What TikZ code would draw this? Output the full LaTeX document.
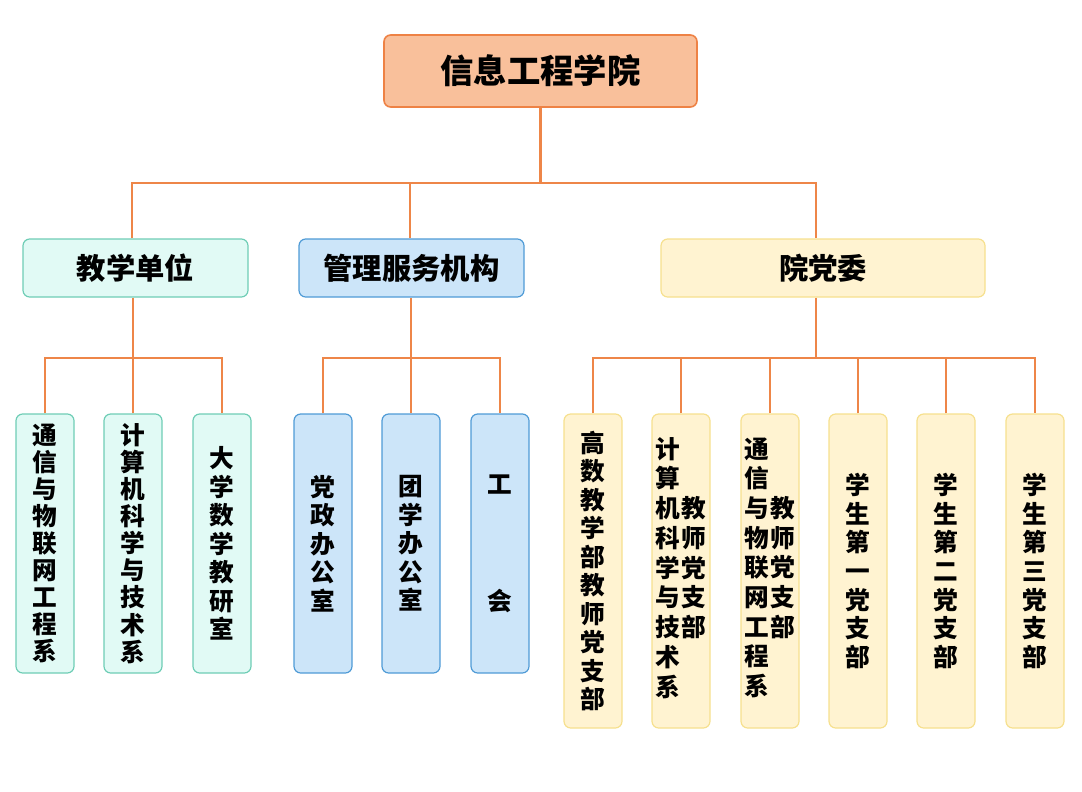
\documentclass[tikz,border=0pt]{standalone}
\usepackage{fontspec}
\newfontfamily\cjk{Noto Sans CJK SC}
\definecolor{lineor}{HTML}{EE8648}
\definecolor{topfill}{HTML}{F9C09B}
\definecolor{topdraw}{HTML}{EE8245}
\definecolor{mintfill}{HTML}{E1FAF5}
\definecolor{mintdraw}{HTML}{6ECDB5}
\definecolor{bluefill}{HTML}{CCE5F9}
\definecolor{bluedraw}{HTML}{4F9BD6}
\definecolor{yelfill}{HTML}{FFF3D1}
\definecolor{yeldraw}{HTML}{F6E08E}
\tikzset{
  box/.style={rectangle, rounded corners=5pt, line width=0.9pt, inner sep=0pt, align=center,
    font=\cjk\bfseries\fontsize{18.5}{21.4}\selectfont},
  tight/.style={font=\cjk\bfseries\fontsize{18.5}{20.3}\selectfont},
  topbox/.style={box, fill=topfill, draw=topdraw, line width=1.2pt, minimum width=234.75pt, minimum height=54pt,
    font=\cjk\bfseries\fontsize{25}{28}\selectfont},
  midbox/.style={box, minimum height=43.5pt, font=\cjk\bfseries\fontsize{22}{25}\selectfont},
  mint/.style={fill=mintfill, draw=mintdraw},
  blue/.style={fill=bluefill, draw=bluedraw},
  yel/.style={fill=yelfill, draw=yeldraw},
  leafA/.style={box, minimum width=43.5pt, minimum height=194.25pt},
  leafB/.style={box, minimum width=43.5pt, minimum height=235.5pt},
  conn/.style={draw=lineor, line width=1.9pt}
}
\begin{document}
\begin{tikzpicture}[x=0.75pt,y=-0.75pt]
\useasboundingbox (0,0) rectangle (1082,792);
% top
\node[topbox] (top) at (540.5,71) {信息工程学院};
% level 2
\node[midbox, mint, minimum width=168.75pt] (jx) at (135.5,268) {教学单位};
\node[midbox, blue, minimum width=168.75pt] (gl) at (411.5,268) {管理服务机构};
\node[midbox, yel, minimum width=243pt] (dw) at (823,268) {院党委};
% leaves group A
\node[leafA, mint, tight] (a1) at (45,543.5) {通\\信\\与\\物\\联\\网\\工\\程\\系};
\node[leafA, mint, tight] (a2) at (133,543.5) {计\\算\\机\\科\\学\\与\\技\\术\\系};
\node[leafA, mint] (a3) at (222,543.5) {大\\学\\数\\学\\教\\研\\室};
% leaves group B
\node[leafA, blue] (b1) at (323,543.5) {党\\政\\办\\公\\室};
\node[leafA, blue] (b2) at (411,543.5) {团\\学\\办\\公\\室};
\node[leafA, blue] (b3) at (500,543.5) {工\\\strut\\\strut\\\strut\\会};
% leaves group C
\node[leafB, yel] (c1) at (593,571) {高\\数\\教\\学\\部\\教\\师\\党\\支\\部};
\node[leafB, yel] (c2) at (681,571) {\begin{tabular}{@{}c@{\hspace{1pt}}c@{}}计&\\算&\\机&教\\科&师\\学&党\\与&支\\技&部\\术&\\系&\end{tabular}};
\node[leafB, yel] (c3) at (770,571) {\begin{tabular}{@{}c@{\hspace{1pt}}c@{}}通&\\信&\\与&教\\物&师\\联&党\\网&支\\工&部\\程&\\系&\end{tabular}};
\node[leafB, yel] (c4) at (858,571) {学\\生\\第\\一\\党\\支\\部};
\node[leafB, yel] (c5) at (946,571) {学\\生\\第\\二\\党\\支\\部};
\node[leafB, yel] (c6) at (1035,571) {学\\生\\第\\三\\党\\支\\部};
% connectors
\coordinate (bus1) at (0,183);
\coordinate (bus2) at (0,358);
\coordinate (jxn) at ([xshift=-2.6pt]jx.north);
\coordinate (gln) at ([xshift=-1.1pt]gl.north);
\coordinate (dwn) at ([xshift=-5.25pt]dw.north);
\coordinate (jxs) at ([xshift=-1.9pt]jx.south);
\coordinate (gls) at ([xshift=-0.4pt]gl.south);
\coordinate (dws) at ([xshift=-5.25pt]dw.south);
\draw[conn] (top.south) -- (top.south |- bus1);
\draw[conn] (jxn) -- (jxn |- bus1) -- (dwn |- bus1) -- (dwn);
\draw[conn] (gln) -- (gln |- bus1);
\draw[conn] (jxs) -- (jxs |- bus2);
\draw[conn] (a1.north) -- (a1.north |- bus2) -- (a3.north |- bus2) -- (a3.north);
\draw[conn] (a2.north) -- (a2.north |- bus2);
\draw[conn] (gls) -- (gls |- bus2);
\draw[conn] (b1.north) -- (b1.north |- bus2) -- (b3.north |- bus2) -- (b3.north);
\draw[conn] (b2.north) -- (b2.north |- bus2);
\draw[conn] (dws) -- (dws |- bus2);
\draw[conn] (c1.north) -- (c1.north |- bus2) -- (c6.north |- bus2) -- (c6.north);
\foreach \n in {c2,c3,c4,c5} \draw[conn] (\n.north) -- (\n.north |- bus2);
\end{tikzpicture}
\end{document}
